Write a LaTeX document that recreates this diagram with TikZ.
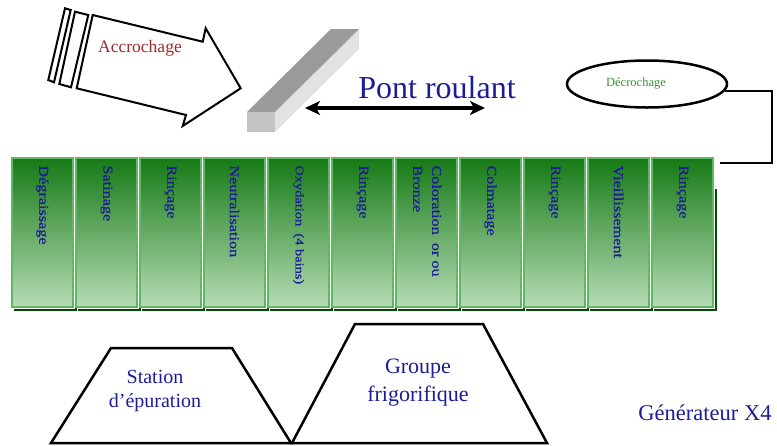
\documentclass[tikz,border=0pt]{standalone}
\usepackage{fontspec}
\setmainfont{Liberation Serif}
\newfontfamily\tankfont{Liberation Serif}[FakeBold=0.6]
\usepackage{tikz}
\usetikzlibrary{calc,shapes.geometric,arrows.meta}

\definecolor{TextBlue}{RGB}{28,28,150}
\definecolor{AccRed}{RGB}{160,42,42}
\definecolor{DecGreen}{RGB}{52,150,52}
\definecolor{TankTop}{RGB}{22,122,22}
\definecolor{TankMid}{RGB}{118,180,118}
\definecolor{TankBottom}{RGB}{182,220,182}
\definecolor{TankEdge}{RGB}{98,184,98}
\definecolor{TankShadow}{RGB}{0,78,0}
\definecolor{BeamTop}{RGB}{154,154,154}
\definecolor{BeamFront}{RGB}{196,196,196}
\definecolor{BeamSide}{RGB}{226,226,226}

\tikzset{
  tank/.style={draw=TankEdge, line width=1.5pt, top color=TankTop, middle color=TankMid,
    bottom color=TankBottom, minimum width=61pt, minimum height=149pt, inner sep=0pt},
  tanklabel/.style={rotate=-90, anchor=west, inner sep=0pt, text=TextBlue,
    font=\tankfont\fontsize{13.5}{19}\selectfont},
  bluetext/.style={text=TextBlue, align=center, inner sep=0pt},
  outline/.style={line width=2.5pt, line join=miter},
}

\begin{document}
\begin{tikzpicture}[x=1pt, y=-1pt]
    \useasboundingbox (0,0) rectangle (777,445);

    %Accrochage arrow
    \draw[line width=2pt, line join=miter] (48.3,80) -- (54,82.3) -- (70.7,10) -- (65,8.3) -- cycle; %Far bar
    \draw[line width=2pt, line join=miter] (59.3,84) -- (71,87.3) -- (88.3,15) -- (75,11.7) -- cycle; %Near bar
    \draw[line width=2pt, line join=miter] (92.7,15) -- (202.7,41.7) -- (205.7,28.3) -- (240.7,88.3)
        -- (182.7,126) -- (186,115) -- (76.7,88.3) -- cycle; %Block arrow
    \node[text=AccRed, font=\fontsize{17.5}{19}\selectfont] (accro) at (140,48) {Accrochage};

    %Beam of the crane
    \fill[BeamTop] (247,112) -- (331,29) -- (359,29) -- (275,112) -- cycle; %Top face
    \fill[BeamSide] (275,112) -- (359,29) -- (359,49) -- (275,132) -- cycle; %Side face
    \draw[BeamTop!80] (275,112) -- (359,29);
    \fill[BeamFront] (247,112) rectangle (275,132); %Front face

    %Pont roulant
    \coordinate (pont-left) at (305,108);
    \coordinate (pont-right) at (485,108);
    \draw[<->, line width=3.5pt, >={Stealth[length=15pt, width=14pt, inset=4pt]}] (pont-left) -- (pont-right);
    \node[text=TextBlue, font=\fontsize{32}{34}\selectfont] (pont) at (437,88) {Pont roulant};

    %Decrochage
    \node[draw, ellipse, line width=2.5pt, minimum width=160pt, minimum height=47pt, inner sep=0pt] (decro) at (647,84) {};
    \node[text=DecGreen, font=\fontsize{12.5}{14}\selectfont] (decro-text) at (636,83) {Décrochage};
    \coordinate (decro-corner) at (772,163);
    \coordinate (decro-end) at (720,163);
    \draw[line width=2pt] (decro.-5) -| (decro-corner) -- (decro-end);

    %Tanks
    \foreach \k in {0,...,10} {
        \node[tank] (tank\k) at (42.5+64*\k,232.5) {};
        \fill[TankShadow] ($(tank\k.south west)+(3,0.75)$) rectangle ($(tank\k.south east)+(3.5,3.5)$); %Bottom shadow
        \fill[TankShadow] ($(tank\k.north east)+(0.75,32)$) rectangle ($(tank\k.south east)+(3.5,3.5)$); %Right shadow
    }
    \foreach \lbl [count=\k from 0] in {Dégraissage, Satinage, Rinçage, Neutralisation,
        {\fontsize{12}{13}\selectfont Oxydation~~(4 bains)}, Rinçage,
        {\begin{tabular}{@{}l@{}}Coloration~~or ou\\Bronze\end{tabular}},
        Colmatage, Rinçage, Vieillissement, Rinçage} {
        \node[tanklabel] (label\k) at ([yshift=-8pt]tank\k.north) {\scalebox{1.2}[1]{\lbl}};
    }

    %Station d'epuration
    \draw[outline] (51,443) -- (111,348) -- (232,348) -- (291,443) -- cycle;
    \node[bluetext, font=\fontsize{20}{24}\selectfont] (station) at (155,391) {Station\\d’épuration};

    %Groupe frigorifique
    \draw[outline] (292,443) -- (355,324) -- (483,324) -- (547,443) -- cycle;
    \node[bluetext, font=\fontsize{22}{28}\selectfont] (groupe) at (418,383) {Groupe\\frigorifique};

    %Generateur
    \node[bluetext, font=\fontsize{22.5}{24}\selectfont] (gene) at (705,413) {Générateur X4};

\end{tikzpicture}
\end{document}
